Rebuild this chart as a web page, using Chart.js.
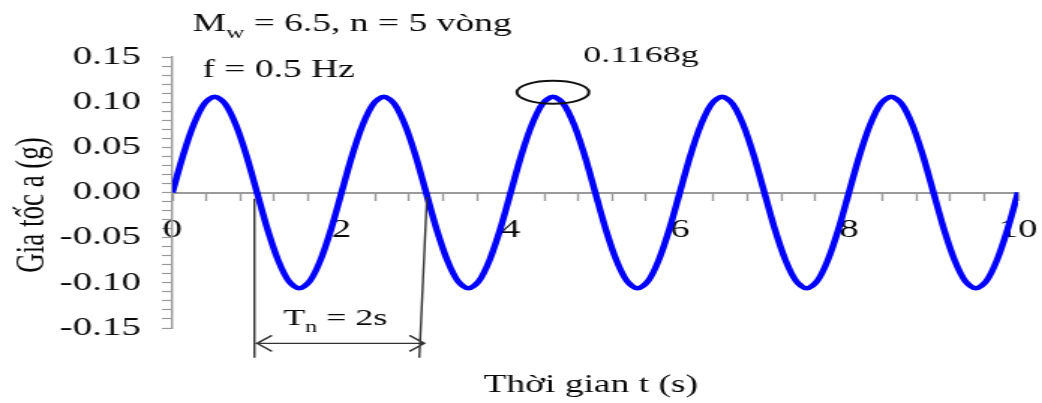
<!DOCTYPE html>
<html>
<head>
<meta charset="utf-8">
<script src="https://cdn.jsdelivr.net/npm/chart.js@4.4.0/dist/chart.umd.min.js"></script>
<style>
  body { margin: 0; background: #fff; overflow: hidden; }
  #wrap { width: 695px; height: 403px; transform: scaleX(1.4993); transform-origin: 0 0; }
</style>
</head>
<body>
<div id="wrap"><canvas id="chart"></canvas></div>
<script>
// thoi gian (s), buoc 0.125 s
const timeValues = [
  0, 0.125, 0.25, 0.375, 0.5, 0.625, 0.75, 0.875, 1, 1.125, 1.25, 1.375, 1.5, 1.625, 1.75, 1.875,
  2, 2.125, 2.25, 2.375, 2.5, 2.625, 2.75, 2.875, 3, 3.125, 3.25, 3.375, 3.5, 3.625, 3.75, 3.875,
  4, 4.125, 4.25, 4.375, 4.5, 4.625, 4.75, 4.875, 5, 5.125, 5.25, 5.375, 5.5, 5.625, 5.75, 5.875,
  6, 6.125, 6.25, 6.375, 6.5, 6.625, 6.75, 6.875, 7, 7.125, 7.25, 7.375, 7.5, 7.625, 7.75, 7.875,
  8, 8.125, 8.25, 8.375, 8.5, 8.625, 8.75, 8.875, 9, 9.125, 9.25, 9.375, 9.5, 9.625, 9.75, 9.875,
  10
];
// gia toc a (g)
const accelValues = [
  0, 0.041, 0.075, 0.098, 0.106, 0.098, 0.075, 0.041, 0, -0.041, -0.075, -0.098, -0.106, -0.098, -0.075, -0.041,
  0, 0.041, 0.075, 0.098, 0.106, 0.098, 0.075, 0.041, 0, -0.041, -0.075, -0.098, -0.106, -0.098, -0.075, -0.041,
  0, 0.041, 0.075, 0.098, 0.106, 0.098, 0.075, 0.041, 0, -0.041, -0.075, -0.098, -0.106, -0.098, -0.075, -0.041,
  0, 0.041, 0.075, 0.098, 0.106, 0.098, 0.075, 0.041, 0, -0.041, -0.075, -0.098, -0.106, -0.098, -0.075, -0.041,
  0, 0.041, 0.075, 0.098, 0.106, 0.098, 0.075, 0.041, 0, -0.041, -0.075, -0.098, -0.106, -0.098, -0.075, -0.041,
  0
];
const xTickValues = [0, 2, 4, 6, 8, 10];
const xTickLabels = ['0', '2', '4', '6', '8', '10'];
const yTickValues = [-0.15, -0.1, -0.05, 0, 0.05, 0.1, 0.15];
const yTickLabels = ['-0.15', '-0.10', '-0.05', '0.00', '0.05', '0.10', '0.15'];

const serif = '"Liberation Serif", "Times New Roman", serif';
const axisGray = '#9a9a9a';
const textColor = '#0a0a0a';

function labelFor(values, labels, v) {
  const i = values.findIndex(t => Math.abs(t - v) < 1e-6);
  return i >= 0 ? labels[i] : '';
}

// text with a subscript part, e.g. M_w, T_n
function subText(ctx, x, y, parts, size) {
  parts.forEach(p => {
    if (p.sub) {
      ctx.font = Math.round(size * 0.68) + 'px ' + serif;
      ctx.fillText(p.t, x, y + size * 0.28);
    } else {
      ctx.font = size + 'px ' + serif;
      ctx.fillText(p.t, x, y);
    }
    x += ctx.measureText(p.t).width;
  });
}

const notes = {
  id: 'notes',
  afterDraw(chart) {
    const ctx = chart.ctx;
    const xs = chart.scales.x, ys = chart.scales.y;
    const px = v => xs.getPixelForValue(v);
    const py = v => ys.getPixelForValue(v);
    ctx.save();
    ctx.fillStyle = textColor;
    ctx.textBaseline = 'alphabetic';
    ctx.textAlign = 'left';

    subText(ctx, 128.5, 31, [{t: 'M'}, {t: 'w', sub: true}, {t: ' = 6.5, n = 5 vòng'}], 25);
    ctx.font = '25px ' + serif;
    ctx.fillText('f = 0.5 Hz', 135, 77);
    ctx.font = '24px ' + serif;
    ctx.fillText('0.1168g', 389, 62);

    // vong danh dau dinh
    ctx.strokeStyle = '#111';
    ctx.lineWidth = 2;
    ctx.beginPath();
    ctx.ellipse(px(4.5), py(0.111), 24, 11.5, 0, 0, Math.PI * 2);
    ctx.stroke();

    // chu ky T_n
    ctx.strokeStyle = '#333';
    ctx.lineWidth = 1.4;
    ctx.beginPath();
    ctx.moveTo(px(0.97), py(-0.007));
    ctx.lineTo(px(0.97), py(-0.183));
    ctx.moveTo(px(3.01), py(-0.005));
    ctx.lineTo(px(2.92), py(-0.183));
    const ay = py(-0.167);
    const ax1 = px(1.0), ax2 = px(2.98);
    ctx.moveTo(ax1, ay); ctx.lineTo(ax2, ay);
    ctx.moveTo(ax1 + 10, ay - 8); ctx.lineTo(ax1, ay); ctx.lineTo(ax1 + 10, ay + 8);
    ctx.moveTo(ax2 - 10, ay - 8); ctx.lineTo(ax2, ay); ctx.lineTo(ax2 - 10, ay + 8);
    ctx.stroke();
    subText(ctx, px(1.31), 325, [{t: 'T'}, {t: 'n', sub: true}, {t: ' = 2s'}], 24);

    // ten truc
    ctx.font = '25px ' + serif;
    ctx.textAlign = 'center';
    ctx.fillText('Thời gian t (s)', 394, 392);
    ctx.translate(22, 205);
    ctx.rotate(-Math.PI / 2);
    ctx.textBaseline = 'middle';
    ctx.font = '27px ' + serif;
    ctx.fillText('Gia tốc a (g)', 0, 0);
    ctx.restore();
  }
};

new Chart(document.getElementById('chart'), {
  type: 'line',
  data: {
    datasets: [{
      data: timeValues.map((t, i) => ({x: t, y: accelValues[i]})),
      borderColor: '#0000ff',
      borderWidth: 4.5,
      pointRadius: 0,
      tension: 0.3,
      fill: false
    }]
  },
  options: {
    responsive: true,
    maintainAspectRatio: false,
    animation: false,
    layout: { padding: { top: 57, right: 16, bottom: 75, left: 0 } },
    plugins: { legend: { display: false }, tooltip: { enabled: false } },
    scales: {
      x: {
        type: 'linear',
        position: { y: 0 },
        min: 0,
        max: 10,
        afterFit: s => { s.paddingLeft = 0; s.paddingRight = 0; },
        grid: { drawOnChartArea: false, tickLength: 7, tickColor: axisGray, tickWidth: 1.4 },
        border: { color: axisGray, width: 2 },
        ticks: {
          stepSize: 0.4,
          autoSkip: false,
          maxRotation: 0,
          padding: 15,
          color: textColor,
          font: { family: serif, size: 26 },
          callback: v => labelFor(xTickValues, xTickLabels, v)
        }
      },
      y: {
        min: -0.15,
        max: 0.15,
        afterFit: s => { s.width = 115; },
        grid: { drawOnChartArea: false, tickLength: 7, tickColor: axisGray, tickWidth: 1.2 },
        border: { color: axisGray, width: 1.4 },
        ticks: {
          stepSize: 0.01,
          autoSkip: false,
          padding: 14,
          color: textColor,
          font: { family: serif, size: 26 },
          callback: v => labelFor(yTickValues, yTickLabels, v)
        }
      }
    }
  },
  plugins: [notes]
});
</script>
</body>
</html>
